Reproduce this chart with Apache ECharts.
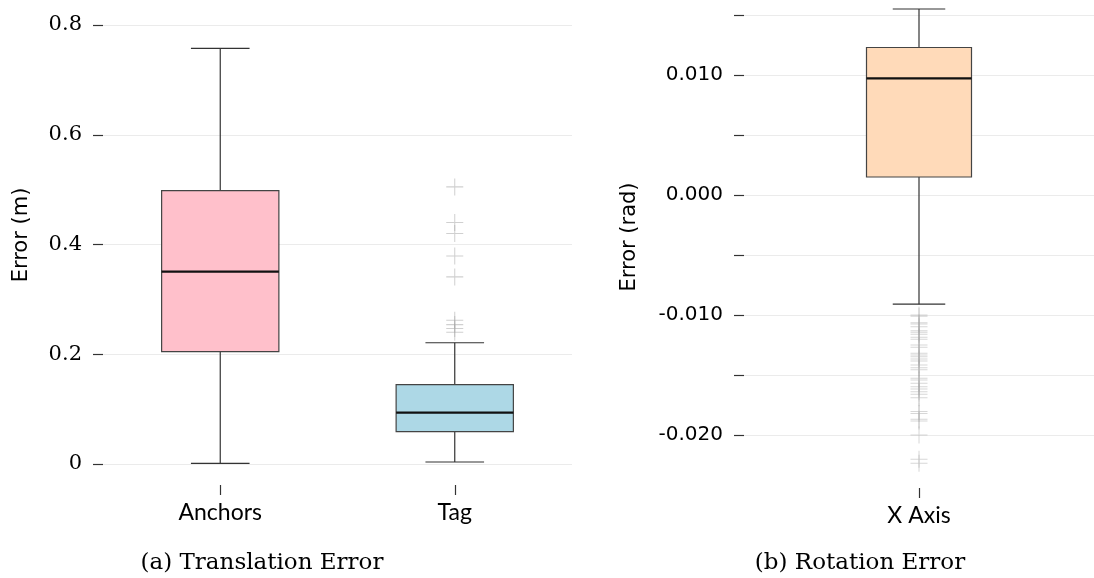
<!DOCTYPE html>
<html>
<head>
<meta charset="utf-8">
<script src="https://cdn.jsdelivr.net/npm/echarts@6/dist/echarts.min.js"></script>
<style>
html,body{margin:0;padding:0;background:#fff;}
#chart{width:1094px;height:578px;}
</style>
</head>
<body>
<div id="chart"></div>
<script>
// ---- data ----
const leftCategories = ['Anchors', 'Tag'];
const rightCategories = ['X Axis'];
// [lower whisker, Q1, median, Q3, upper whisker]
const anchorsStats = [0.0013, 0.2047, 0.3505, 0.498, 0.7575];
const tagStats = [0.0036, 0.059, 0.0935, 0.1445, 0.221];
const tagOutliers = [0.240, 0.247, 0.254, 0.262, 0.341, 0.379, 0.420, 0.440, 0.505];
const xAxisStats = [-0.0091, 0.0015, 0.00972, 0.01229, 0.0155];
const xAxisOutliers = [-0.0100, -0.0101, -0.01064, -0.01075, -0.01097, -0.01131, -0.01144, -0.01161,
  -0.01186, -0.01203, -0.0125, -0.01269, -0.01319, -0.01333, -0.01347, -0.01367, -0.01383,
  -0.01417, -0.01439, -0.01456, -0.01528, -0.01542, -0.01569, -0.01597, -0.01617, -0.01639,
  -0.01661, -0.01689, -0.01804, -0.01821, -0.01869, -0.01883, -0.0200, -0.02203, -0.02236];
const leftTicks = [0, 0.2, 0.4, 0.6, 0.8];
const rightTicks = [-0.02, -0.015, -0.01, -0.005, 0, 0.005, 0.01, 0.015];

// ---- styles ----
const leftColors = ['#FFC0CB', '#ADD8E6'];
const rightColors = ['#FFDAB9'];
const plusPath = 'path://M-0.6,-10H0.6V10H-0.6Z M-10,-0.6H10V0.6H-10Z';

function boxRenderer(colors, frac) {
  return function (params, api) {
    const idx = api.value(0);
    const lo = api.coord([idx, api.value(1)]);
    const q1 = api.coord([idx, api.value(2)]);
    const med = api.coord([idx, api.value(3)]);
    const q3 = api.coord([idx, api.value(4)]);
    const hi = api.coord([idx, api.value(5)]);
    const band = api.size([1, 0])[0];
    const w = band * frac;
    const cx = lo[0];
    const lineStyle = { stroke: '#333', lineWidth: 1.2, fill: null };
    return {
      type: 'group',
      children: [
        { type: 'line', shape: { x1: cx, y1: q1[1], x2: cx, y2: lo[1] }, style: lineStyle },
        { type: 'line', shape: { x1: cx, y1: q3[1], x2: cx, y2: hi[1] }, style: lineStyle },
        { type: 'line', shape: { x1: cx - w / 4, y1: lo[1], x2: cx + w / 4, y2: lo[1] }, style: lineStyle },
        { type: 'line', shape: { x1: cx - w / 4, y1: hi[1], x2: cx + w / 4, y2: hi[1] }, style: lineStyle },
        { type: 'rect', shape: { x: cx - w / 2, y: q3[1], width: w, height: q1[1] - q3[1] },
          style: { fill: colors[params.dataIndex], stroke: '#444', lineWidth: 1.2 } },
        { type: 'line', shape: { x1: cx - w / 2, y1: med[1], x2: cx + w / 2, y2: med[1] },
          style: { stroke: '#111', lineWidth: 2.2 } }
      ]
    };
  };
}

const chart = echarts.init(document.getElementById('chart'), null, { renderer: 'canvas' });

const tickStyle = { show: true, length: 10, lineStyle: { color: '#333', width: 1.2 } };
const splitStyle = { show: true, lineStyle: { color: '#ebebeb', width: 1.2 } };

chart.setOption({
  backgroundColor: '#ffffff',
  animation: false,
  grid: [
    { left: 103, right: 522, top: 25, bottom: 114 },
    { left: 744, right: -5, top: 15, bottom: 143 }
  ],
  xAxis: [
    {
      type: 'category', gridIndex: 0, data: leftCategories, offset: 21,
      axisLine: { show: false, onZero: false },
      axisTick: Object.assign({ alignWithLabel: true }, tickStyle),
      axisLabel: { fontFamily: 'Lato', fontSize: 23, color: '#000', margin: 16 },
      splitLine: { show: false }
    },
    {
      type: 'category', gridIndex: 1, data: rightCategories, offset: 53,
      axisLine: { show: false, onZero: false },
      axisTick: Object.assign({ alignWithLabel: true }, tickStyle),
      axisLabel: { fontFamily: 'Lato', fontSize: 23, color: '#000', margin: 16 },
      splitLine: { show: false }
    }
  ],
  yAxis: [
    {
      type: 'value', gridIndex: 0, min: leftTicks[0], max: leftTicks[leftTicks.length - 1], interval: 0.2,
      axisLine: { show: false, onZero: false },
      axisTick: tickStyle,
      axisLabel: {
        fontFamily: 'DejaVu Serif', fontSize: 21, color: '#000', margin: 21,
        formatter: v => (Math.abs(v) < 1e-9 ? '0' : v.toFixed(1))
      },
      splitLine: splitStyle
    },
    {
      type: 'value', gridIndex: 1, min: rightTicks[0], max: rightTicks[rightTicks.length - 1], interval: 0.005,
      axisLine: { show: false, onZero: false },
      axisTick: tickStyle,
      axisLabel: {
        fontFamily: 'DejaVu Sans', fontSize: 20, color: '#000', margin: 21,
        formatter: v => (Math.round(v * 1000) % 10 === 0 ? (Math.round(v * 1000) / 1000).toFixed(3) : '')
      },
      splitLine: splitStyle
    }
  ],
  series: [
    {
      type: 'custom', xAxisIndex: 0, yAxisIndex: 0, z: 3,
      renderItem: boxRenderer(leftColors, 0.5),
      encode: { x: 0, y: [1, 2, 3, 4, 5] },
      data: [[0].concat(anchorsStats), [1].concat(tagStats)]
    },
    {
      type: 'scatter', xAxisIndex: 0, yAxisIndex: 0, z: 2, clip: false,
      symbol: plusPath, symbolSize: 17,
      itemStyle: { color: 'rgba(165,165,165,0.65)' },
      data: tagOutliers.map(v => [1, v])
    },
    {
      type: 'custom', xAxisIndex: 1, yAxisIndex: 1, z: 3,
      renderItem: boxRenderer(rightColors, 0.3),
      encode: { x: 0, y: [1, 2, 3, 4, 5] },
      data: [[0].concat(xAxisStats)]
    },
    {
      type: 'scatter', xAxisIndex: 1, yAxisIndex: 1, z: 2, clip: false,
      symbol: plusPath, symbolSize: 17,
      itemStyle: { color: 'rgba(165,165,165,0.55)' },
      data: xAxisOutliers.map(v => [0, v])
    }
  ],
  graphic: [
    { type: 'text', x: 22, y: 235, rotation: Math.PI / 2,
      style: { text: 'Error (m)', font: '21px "DejaVu Sans"', fill: '#000', textAlign: 'center', textVerticalAlign: 'middle', align: 'center', verticalAlign: 'middle' } },
    { type: 'text', x: 630, y: 237, rotation: Math.PI / 2,
      style: { text: 'Error (rad)', font: '21px "DejaVu Sans"', fill: '#000', textAlign: 'center', textVerticalAlign: 'middle', align: 'center', verticalAlign: 'middle' } },
    { type: 'text', x: 262, y: 563,
      style: { text: '(a) Translation Error', font: '23px "DejaVu Serif"', fill: '#000', textAlign: 'center', textVerticalAlign: 'middle', align: 'center', verticalAlign: 'middle' } },
    { type: 'text', x: 860, y: 563,
      style: { text: '(b) Rotation Error', font: '23px "DejaVu Serif"', fill: '#000', textAlign: 'center', textVerticalAlign: 'middle', align: 'center', verticalAlign: 'middle' } }
  ]
});
</script>
</body>
</html>
